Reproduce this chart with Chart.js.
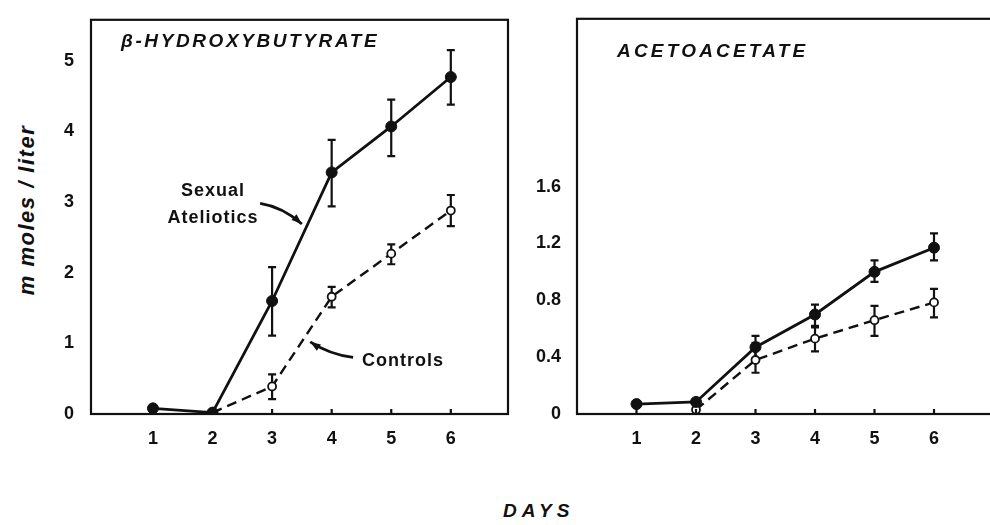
<!DOCTYPE html>
<html>
<head>
<meta charset="utf-8">
<script src="https://cdn.jsdelivr.net/npm/chart.js@4.4.1/dist/chart.umd.min.js"></script>
<style>
  html, body { margin: 0; padding: 0; width: 990px; height: 525px; overflow: hidden; background: #fff; }
  .box { position: absolute; top: 0; }
  .lbl { position: absolute; font-family: "Liberation Sans", Arial, sans-serif; font-weight: bold; color: #111; white-space: nowrap; line-height: 1; }
  .ttl { font-style: italic; font-size: 19px; letter-spacing: 2.6px; }
</style>
</head>
<body>
<div class="box" style="left:60px;width:455px;height:445px;"><canvas id="bhb" width="455" height="445"></canvas></div>
<div class="box" style="left:520px;width:480px;height:445px;"><canvas id="aca" width="480" height="445"></canvas></div>

<div class="lbl ttl" style="left:121px;top:31px;">β-HYDROXYBUTYRATE</div>
<div class="lbl ttl" style="left:617px;top:41px;letter-spacing:3.2px;">ACETOACETATE</div>
<div class="lbl" style="left:213px;top:181px;font-size:18px;letter-spacing:1px;transform:translateX(-50%);">Sexual</div>
<div class="lbl" style="left:213px;top:208px;font-size:18px;letter-spacing:1px;transform:translateX(-50%);">Ateliotics</div>
<div class="lbl" style="left:362px;top:351px;font-size:18px;letter-spacing:1px;">Controls</div>
<div class="lbl" style="left:27px;top:210px;font-size:22px;font-style:italic;letter-spacing:1.5px;transform:translate(-50%,-50%) rotate(-90deg);">m moles / liter</div>
<div class="lbl" style="left:503px;top:501px;font-size:19px;font-style:italic;letter-spacing:5px;">DAYS</div>

<script>
// days on the x axis
const days = [1, 2, 3, 4, 5, 6];

// beta-hydroxybutyrate (mmoles/liter)
const bhbAtel   = [0.08, 0.02, 1.60, 3.42, 4.07, 4.77];
const bhbAtelHi = [null, null, 2.08, 3.88, 4.45, 5.15];
const bhbAtelLo = [null, null, 1.11, 2.94, 3.65, 4.38];
const bhbCtrl   = [null, 0.02, 0.39, 1.66, 2.27, 2.88];
const bhbCtrlHi = [null, null, 0.56, 1.80, 2.40, 3.10];
const bhbCtrlLo = [null, null, 0.21, 1.51, 2.12, 2.66];

// acetoacetate (mmoles/liter)
const acaAtel   = [0.07, 0.085, 0.47, 0.70, 1.00, 1.17];
const acaAtelHi = [null, null, 0.55, 0.77, 1.08, 1.27];
const acaAtelLo = [null, null, 0.39, 0.62, 0.93, 1.08];
const acaCtrl   = [null, 0.03, 0.38, 0.53, 0.66, 0.785];
const acaCtrlHi = [null, null, 0.50, 0.61, 0.76, 0.88];
const acaCtrlLo = [null, null, 0.29, 0.44, 0.55, 0.68];

// tick labels
const bhbTicks = [0, 1, 2, 3, 4, 5];
const acaTicks = [0, 0.4, 0.8, 1.2, 1.6];

const ink = '#111';
const tickFont = { family: '"Liberation Sans", Arial, sans-serif', size: 18, weight: 'bold' };

function pts(vals) {
    return days.map((d, i) => ({ x: d, y: vals[i] }));
}

function atelSet(vals, hi, lo) {
    return {
        label: 'Sexual Ateliotics', data: pts(vals), errHi: hi, errLo: lo,
        borderColor: ink, borderWidth: 2.8, pointRadius: 5.5,
        pointBackgroundColor: ink, pointBorderColor: ink, pointBorderWidth: 1
    };
}

function ctrlSet(vals, hi, lo) {
    return {
        label: 'Controls', data: pts(vals), errHi: hi, errLo: lo,
        borderColor: ink, borderWidth: 2.4, borderDash: [10, 6], pointRadius: 4,
        pointBackgroundColor: '#fff', pointBorderColor: ink, pointBorderWidth: 1.8
    };
}

// error bars, drawn under the markers so open circles cover the stem
const errPlugin = {
    id: 'errbars',
    beforeDatasetsDraw(chart) {
        const ctx = chart.ctx, xs = chart.scales.x, ys = chart.scales.y;
        ctx.save();
        ctx.strokeStyle = ink;
        ctx.lineWidth = 2.2;
        chart.data.datasets.forEach(ds => {
            ds.data.forEach((p, i) => {
                const hi = ds.errHi[i], lo = ds.errLo[i];
                if (hi == null || lo == null) return;
                const px = xs.getPixelForValue(p.x);
                const top = ys.getPixelForValue(hi), bot = ys.getPixelForValue(lo);
                ctx.beginPath();
                ctx.moveTo(px, top); ctx.lineTo(px, bot);
                ctx.moveTo(px - 4, top); ctx.lineTo(px + 4, top);
                ctx.moveTo(px - 4, bot); ctx.lineTo(px + 4, bot);
                ctx.stroke();
            });
        });
        ctx.restore();
    }
};

// box around the plot and short inward ticks on the day axis
const framePlugin = {
    id: 'frame',
    afterDatasetsDraw(chart) {
        const ctx = chart.ctx, a = chart.chartArea, xs = chart.scales.x;
        ctx.save();
        ctx.strokeStyle = ink;
        ctx.lineWidth = 2.2;
        ctx.strokeRect(a.left, a.top, a.right - a.left, a.bottom - a.top);
        ctx.beginPath();
        days.forEach(d => {
            const px = xs.getPixelForValue(d);
            ctx.moveTo(px, a.bottom); ctx.lineTo(px, a.bottom - 5);
        });
        ctx.stroke();
        ctx.restore();
    }
};

// curved pointer arrows, given in data units
function arrowPlugin(arrows) {
    return {
        id: 'arrows',
        afterDatasetsDraw(chart) {
            const ctx = chart.ctx, xs = chart.scales.x, ys = chart.scales.y;
            const P = q => [xs.getPixelForValue(q[0]), ys.getPixelForValue(q[1])];
            ctx.save();
            ctx.strokeStyle = ink; ctx.fillStyle = ink; ctx.lineWidth = 2.8;
            arrows.forEach(ar => {
                const f = P(ar.from), c = P(ar.ctrl), t = P(ar.to);
                ctx.beginPath();
                ctx.moveTo(f[0], f[1]);
                ctx.quadraticCurveTo(c[0], c[1], t[0], t[1]);
                ctx.stroke();
                const ang = Math.atan2(t[1] - c[1], t[0] - c[0]);
                ctx.beginPath();
                ctx.moveTo(t[0], t[1]);
                ctx.lineTo(t[0] - 11 * Math.cos(ang - 0.35), t[1] - 11 * Math.sin(ang - 0.35));
                ctx.lineTo(t[0] - 11 * Math.cos(ang + 0.35), t[1] - 11 * Math.sin(ang + 0.35));
                ctx.closePath();
                ctx.fill();
            });
            ctx.restore();
        }
    };
}

function makeChart(id, sets, opt) {
    return new Chart(document.getElementById(id), {
        type: 'line',
        data: { datasets: sets },
        plugins: [errPlugin, framePlugin].concat(opt.extra || []),
        options: {
            responsive: false,
            animation: false,
            devicePixelRatio: 1,
            layout: { padding: { top: opt.top, right: opt.right, left: 0, bottom: 0 } },
            plugins: { legend: { display: false }, tooltip: { enabled: false } },
            scales: {
                x: {
                    type: 'linear', min: opt.xMin, max: opt.xMax,
                    grid: { display: false }, border: { display: false },
                    afterFit: s => { s.height = 31; },
                    afterBuildTicks: s => { s.ticks = days.map(v => ({ value: v })); },
                    ticks: { color: ink, font: tickFont, padding: 6 }
                },
                y: {
                    type: 'linear', min: 0, max: opt.yMax,
                    grid: { display: false }, border: { display: false },
                    afterFit: s => { s.width = opt.yWidth; },
                    afterBuildTicks: s => { s.ticks = opt.yTicks.map(v => ({ value: v })); },
                    ticks: {
                        color: ink, font: tickFont, padding: opt.yPad,
                        callback: v => (v === 0 ? '0' : (opt.decimals ? v.toFixed(1) : String(v)))
                    }
                }
            }
        }
    });
}

makeChart('bhb', [atelSet(bhbAtel, bhbAtelHi, bhbAtelLo), ctrlSet(bhbCtrl, bhbCtrlHi, bhbCtrlLo)], {
    top: 8, right: 7, xMin: -0.04, xMax: 6.96, yMax: 5.58, yWidth: 31, yPad: 9,
    yTicks: bhbTicks, decimals: false,
    extra: [arrowPlugin([
        { from: [2.80, 2.98], ctrl: [3.17, 2.93], to: [3.50, 2.69] },
        { from: [4.36, 0.80], ctrl: [3.97, 0.84], to: [3.64, 1.02] }
    ])]
});

makeChart('aca', [atelSet(acaAtel, acaAtelHi, acaAtelLo), ctrlSet(acaCtrl, acaCtrlHi, acaCtrlLo)], {
    top: 7, right: 3, xMin: 0, xMax: 7, yMax: 2.78, yWidth: 57, yPad: 8,
    yTicks: acaTicks, decimals: true
});
</script>
</body>
</html>
